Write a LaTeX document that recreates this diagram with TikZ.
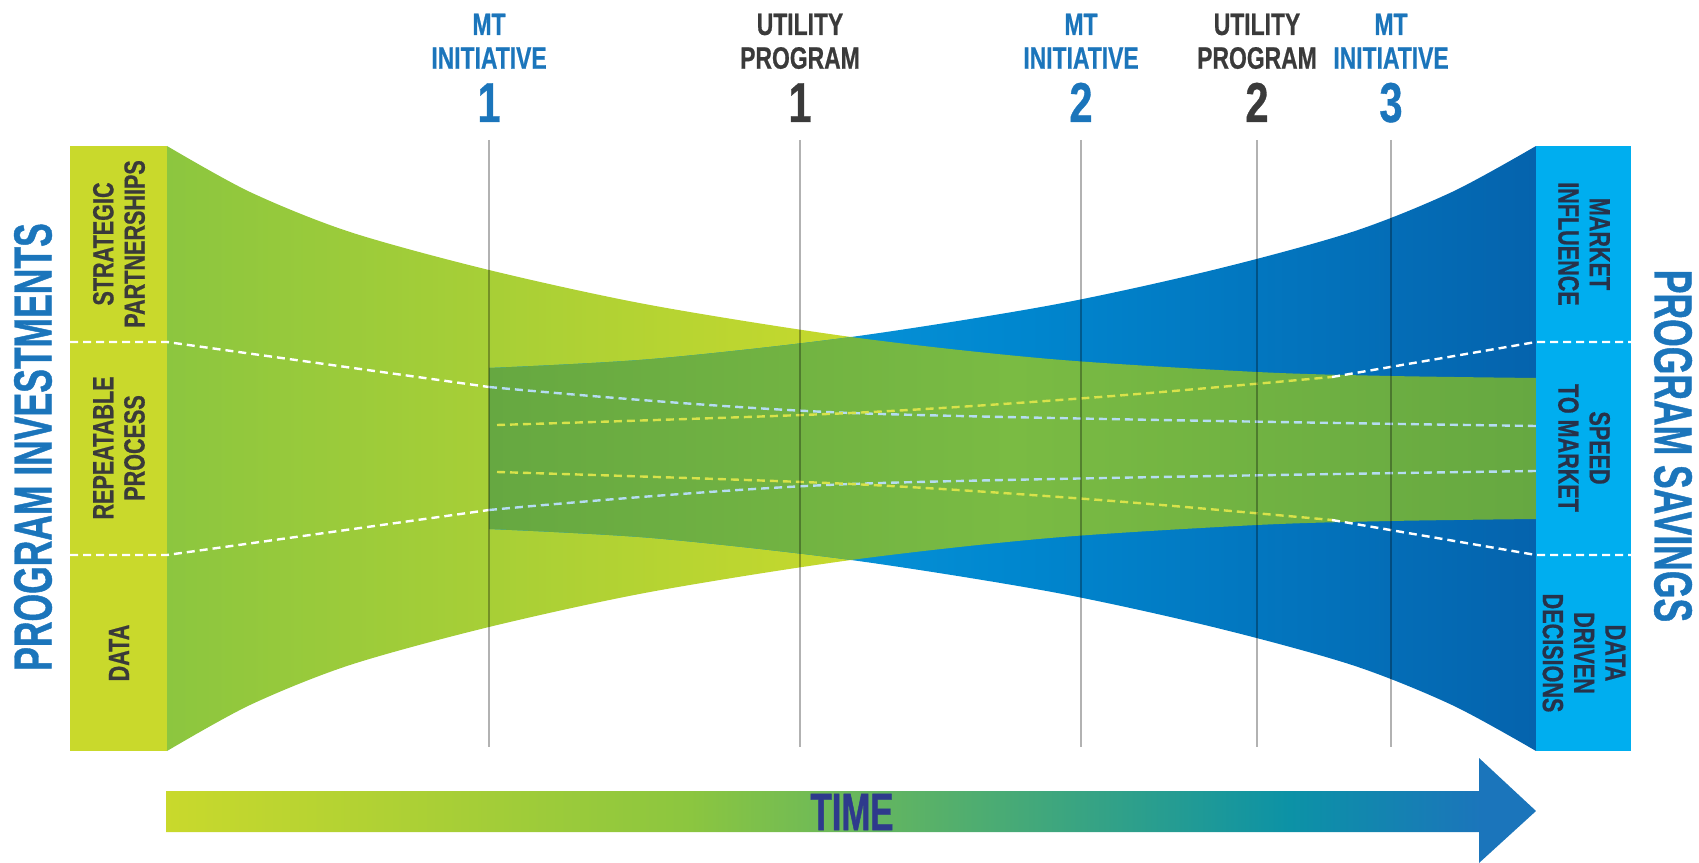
\documentclass[tikz,border=0pt]{standalone}
\usepackage{fontspec}
\setmainfont{Liberation Sans}
\newfontfamily\condfont{Liberation Sans Bold}[FakeStretch=0.74, FakeBold=0.6]
\newfontfamily\tallfont{Liberation Sans Bold}[FakeStretch=0.66, FakeBold=0.8]

\definecolor{barlime}{HTML}{C9D92C}
\definecolor{leafgreen}{HTML}{8CC63F}
\definecolor{limegreen}{HTML}{C6D92D}
\definecolor{mossdark}{HTML}{66A841}
\definecolor{mosslight}{HTML}{7ABB43}
\definecolor{skyblue}{HTML}{00AEEF}
\definecolor{oceanblue}{HTML}{14A6E6}
\definecolor{midblue}{HTML}{0087CF}
\definecolor{deepblue}{HTML}{0563AD}
\definecolor{titleblue}{HTML}{1B75BB}
\definecolor{inkgray}{HTML}{3A3A3A}
\definecolor{slateink}{HTML}{27324A}
\definecolor{navy}{HTML}{2E3A8C}
\definecolor{tealblue}{HTML}{0C92A6}
\definecolor{paleblue}{HTML}{B5DCF2}
\definecolor{paleyellow}{HTML}{D8E24A}

\pgfdeclarehorizontalshading{timeshade}{100bp}{color(0bp)=(barlime); color(25bp)=(barlime);
  color(44bp)=(leafgreen); color(66bp)=(tealblue); color(73bp)=(titleblue); color(100bp)=(titleblue)}

\newcommand\greenfunnel{plot[smooth] coordinates {(167,146) (250,192) (350,232) (489,270) (650,305)
    (851,337) (1050,359) (1257,372) (1391,376) (1536,378)}
  -- plot[smooth] coordinates {(1536,519) (1391,521) (1257,525) (1050,538) (851,560) (650,592)
    (489,627) (350,665) (250,705) (167,751)} -- cycle}
\newcommand\bluefunnel{plot[smooth] coordinates {(489,368) (652,359) (851,337) (1052,305)
    (1213,270) (1352,232) (1452,192) (1536,146)}
  -- plot[smooth] coordinates {(1536,751) (1452,705) (1352,665) (1213,627) (1052,592) (851,560)
    (652,538) (489,529)} -- cycle}

\begin{document}
\begin{tikzpicture}[
	x=0.1mm, y=-0.1mm,
	heading/.style = {anchor=north, inner sep=0pt, align=center,
		font=\condfont\fontsize{8.8}{9.6}\selectfont},
	number/.style = {anchor=base, inner sep=0pt, font=\condfont\fontsize{16}{16}\selectfont},
	barlabel/.style = {inner sep=0pt, align=center, font=\condfont\fontsize{8.3}{8.9}\selectfont},
	sidetitle/.style = {inner sep=0pt, text=titleblue, font=\tallfont\fontsize{15.3}{15.3}\selectfont},
	tick/.style = {draw=black, opacity=0.3, line width=0.14mm},
	dashline/.style = {line width=0.24mm, dash pattern=on 0.8mm off 0.5mm},
	whitedash/.style = {dashline, draw=white},
	bluedash/.style = {dashline, draw=paleblue},
	yellowdash/.style = {dashline, draw=paleyellow}
]
\useasboundingbox (0,0) rectangle (1699,863);

\shade[left color=leafgreen, right color=mossdark, middle color=limegreen] \greenfunnel;
\shade[left color=oceanblue, right color=deepblue, middle color=midblue] \bluefunnel;
\begin{scope}
	\clip \greenfunnel;
	\shade[left color=mossdark, right color=mossdark, middle color=mosslight] \bluefunnel;
\end{scope}

\fill[barlime] (70,146) rectangle (167,751);
\fill[skyblue] (1536,146) rectangle (1631,751);

\draw[whitedash] (70,342) -- (167,342) -- (489,387);
\draw[bluedash] plot[smooth] coordinates {(489,387) (851,413) (1536,426)};
\draw[yellowdash] plot[smooth] coordinates {(497,425) (851,413) (1100,397) (1332,377)};
\draw[whitedash] (1332,377) -- (1536,342) -- (1631,342);
\draw[whitedash] (70,555) -- (167,555) -- (489,510);
\draw[bluedash] plot[smooth] coordinates {(489,510) (851,484) (1536,471)};
\draw[yellowdash] plot[smooth] coordinates {(497,472) (851,484) (1100,500) (1332,520)};
\draw[whitedash] (1332,520) -- (1536,555) -- (1631,555);

\foreach \x in {489,800,1081,1257,1391}
	\draw[tick] (\x,140) -- (\x,747);

\node[heading, text=titleblue] (mt1) at (489,13) {MT\\INITIATIVE};
\node[number, text=titleblue] (mt1num) at (489,122) {1};
\node[heading, text=inkgray] (up1) at (800,13) {UTILITY\\PROGRAM};
\node[number, text=inkgray] (up1num) at (800,122) {1};
\node[heading, text=titleblue] (mt2) at (1081,13) {MT\\INITIATIVE};
\node[number, text=titleblue] (mt2num) at (1081,122) {2};
\node[heading, text=inkgray] (up2) at (1257,13) {UTILITY\\PROGRAM};
\node[number, text=inkgray] (up2num) at (1257,122) {2};
\node[heading, text=titleblue] (mt3) at (1391,13) {MT\\INITIATIVE};
\node[number, text=titleblue] (mt3num) at (1391,122) {3};

\node[barlabel, text=inkgray, rotate=90] (partners) at (119,244) {STRATEGIC\\PARTNERSHIPS};
\node[barlabel, text=inkgray, rotate=90] (process) at (119,448) {REPEATABLE\\PROCESS};
\node[barlabel, text=inkgray, rotate=90] (data) at (119,653) {DATA};
\node[barlabel, text=slateink, rotate=-90] (influence) at (1584,244) {MARKET\\INFLUENCE};
\node[barlabel, text=slateink, rotate=-90] (speed) at (1584,448) {SPEED\\TO MARKET};
\node[barlabel, text=slateink, rotate=-90] (decisions) at (1584,653) {DATA\\DRIVEN\\DECISIONS};

\node[sidetitle, rotate=90] (investments) at (33,447) {PROGRAM INVESTMENTS};
\node[sidetitle, rotate=-90] (savings) at (1673,446) {PROGRAM SAVINGS};

\shade[shading=timeshade] (166,791) -- (1479,791) -- (1479,758) -- (1536,811) -- (1479,863)
	-- (1479,832) -- (166,832) -- cycle;
\node[inner sep=0pt, text=navy, font=\tallfont\fontsize{15}{15}\selectfont] (time) at (852,812) {TIME};

\end{tikzpicture}
\end{document}
